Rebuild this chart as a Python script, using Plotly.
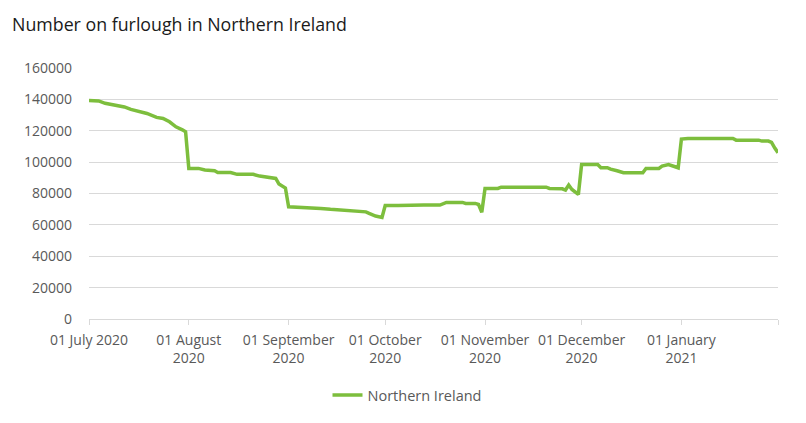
import plotly.graph_objects as go

title_text = "Number on furlough in Northern Ireland"
series_name = "Northern Ireland"

dates = [
    "2020-07-01", "2020-07-04", "2020-07-06", "2020-07-10", "2020-07-12", "2020-07-14",
    "2020-07-17", "2020-07-19", "2020-07-22", "2020-07-24", "2020-07-26", "2020-07-28",
    "2020-07-30", "2020-07-31", "2020-08-01", "2020-08-04", "2020-08-06", "2020-08-09",
    "2020-08-10", "2020-08-14", "2020-08-16", "2020-08-21", "2020-08-23", "2020-08-26",
    "2020-08-28", "2020-08-29", "2020-08-31", "2020-09-01", "2020-09-05", "2020-09-07",
    "2020-09-11", "2020-09-14", "2020-09-17", "2020-09-19", "2020-09-21", "2020-09-25",
    "2020-09-26", "2020-09-28", "2020-09-30", "2020-10-01", "2020-10-05", "2020-10-11",
    "2020-10-13", "2020-10-18", "2020-10-20", "2020-10-25", "2020-10-26", "2020-10-29",
    "2020-10-30", "2020-10-31", "2020-11-01", "2020-11-05", "2020-11-06", "2020-11-20",
    "2020-11-21", "2020-11-25", "2020-11-26", "2020-11-27", "2020-11-28", "2020-11-30",
    "2020-12-01", "2020-12-06", "2020-12-07", "2020-12-09", "2020-12-10", "2020-12-12",
    "2020-12-14", "2020-12-20", "2020-12-21", "2020-12-25", "2020-12-26", "2020-12-28",
    "2020-12-30", "2020-12-31", "2021-01-01", "2021-01-03", "2021-01-17", "2021-01-18",
    "2021-01-25", "2021-01-26", "2021-01-28", "2021-01-29", "2021-01-30", "2021-01-31",
]
values = [
    139300, 139000, 137500, 136000, 135200, 133600,
    132000, 131000, 128500, 127800, 125700, 122500,
    120600, 119300, 96000, 96000, 95000, 94500,
    93400, 93400, 92200, 92200, 91100, 90000,
    89600, 86000, 83500, 71500, 71300, 70700,
    70500, 69900, 69400, 69200, 68800, 68300,
    67300, 65600, 64800, 72400, 72400, 72200,
    72600, 72600, 74300, 74300, 73700, 73700,
    73000, 68000, 83200, 83200, 84000, 84000,
    83200, 83000, 82200, 85400, 82600, 79400,
    98500, 98500, 96400, 96400, 95500, 94500,
    93200, 93200, 96000, 96000, 97500, 98500,
    97000, 96400, 114700, 115100, 115100, 114000,
    114000, 113400, 113400, 112600, 109000, 106000,
]

tick_dates = ["2020-07-01", "2020-08-01", "2020-09-01", "2020-10-01", "2020-11-01",
              "2020-12-01", "2021-01-01", "2021-01-31"]
tick_labels = ["01 July 2020", "01 August<br>2020", "01 September<br>2020",
               "01 October<br>2020", "01 November<br>2020", "01 December<br>2020",
               "01 January<br>2021", ""]
y_ticks = [0, 20000, 40000, 60000, 80000, 100000, 120000, 140000, 160000]

font_family = "Open Sans, Noto Sans, sans-serif"
line_color = "#7DBE3D"
grid_color = "#D9D9D9"
label_color = "#595959"

fig = go.Figure()
fig.add_trace(go.Scatter(
    x=dates, y=values, mode="lines", name=series_name,
    line=dict(color=line_color, width=3.5),
))

fig.update_layout(
    width=806, height=423,
    margin=dict(l=89, r=28, t=68, b=104),
    paper_bgcolor="white", plot_bgcolor="white",
    font=dict(family=font_family, size=14, color=label_color),
    title=dict(text=title_text, x=12/806, xref="container", xanchor="left",
               y=1-25/423, yref="container", yanchor="middle",
               font=dict(family=font_family, size=17.8, color="#1a1a1a")),
    showlegend=True,
    legend=dict(orientation="h", xref="container", x=0.5 + 4/806, xanchor="center",
                yref="container", y=1-395/423, yanchor="middle",
                font=dict(size=14.5, color=label_color)),
    xaxis=dict(
        type="date", range=["2020-07-01", "2021-01-31"],
        tickmode="array", tickvals=tick_dates, ticktext=tick_labels,
        showgrid=False, showline=True, linecolor=grid_color, linewidth=1,
        ticks="outside", ticklen=5, tickcolor=grid_color,
        tickfont=dict(size=14, color=label_color), ticklabelstandoff=3,
        zeroline=False,
    ),
    yaxis=dict(
        range=[0, 160000], tickmode="array", tickvals=y_ticks,
        ticktext=[str(v) for v in y_ticks],
        showgrid=True, gridcolor=grid_color, gridwidth=1,
        zeroline=False, showline=False, ticks="",
        tickfont=dict(size=14, color=label_color), ticklabelstandoff=16,
    ),
)

fig.write_html("out.html")
